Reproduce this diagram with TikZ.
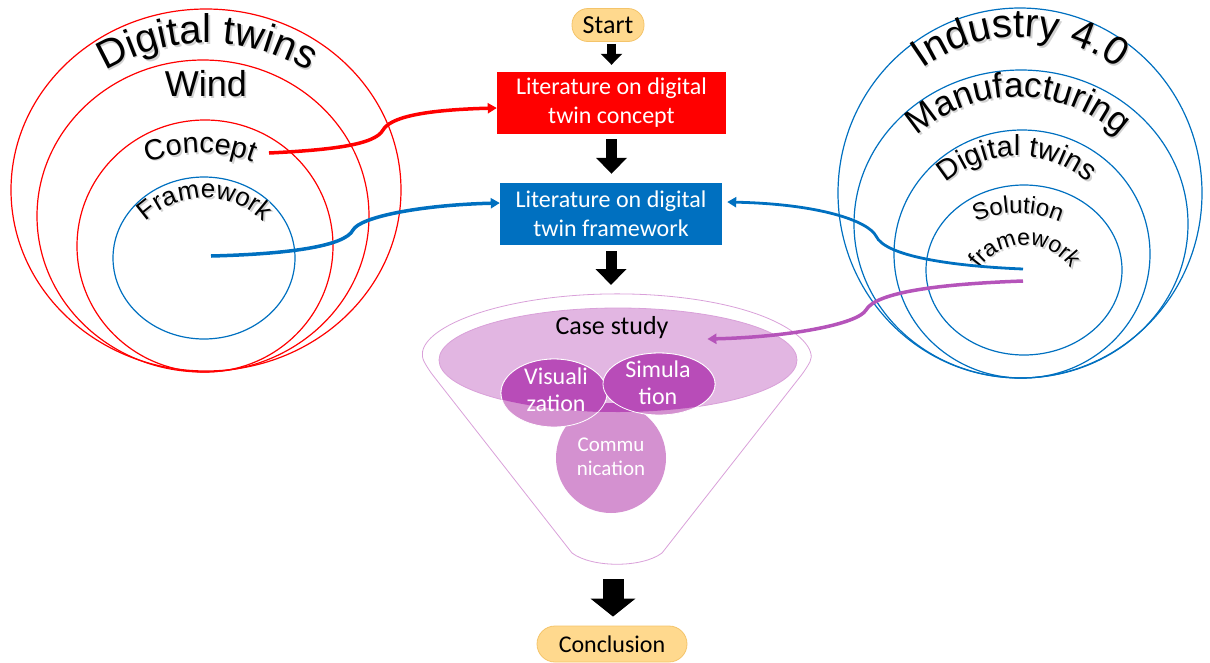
\documentclass[tikz,border=0pt]{standalone}
\usepackage{fontspec}
\setmainfont{Liberation Sans}
\newfontfamily\calfont{Carlito}
\usetikzlibrary{arrows.meta,decorations.text,shapes.geometric}

\definecolor{dtred}{HTML}{FF0000}
\definecolor{dtblue}{HTML}{0070C0}
\definecolor{lav}{HTML}{E2B6E2}
\definecolor{lavline}{HTML}{D9A0D9}
\definecolor{vdark}{HTML}{B84CB8}
\definecolor{vlight}{HTML}{D491D0}
\definecolor{purp}{HTML}{B554BA}
\definecolor{pillfill}{HTML}{FFD98E}
\definecolor{pillline}{HTML}{F4C46A}

\newcommand\arctxt[6]{%
\path[decorate,decoration={text along path,text={|\fontsize{#1}{#1}\selectfont\color{black!18}|#2},text align=center}] (#3) ++(1.6pt,-1.6pt) ++(#5:#4pt) arc[start angle=#5,end angle=#6,radius=#4pt];
\path[decorate,decoration={text along path,text={|\fontsize{#1}{#1}\selectfont|#2},text align=center}] (#3) ++(#5:#4pt) arc[start angle=#5,end angle=#6,radius=#4pt];}

\tikzset{
  ring/.style={ellipse, draw=#1, line width=1.2pt, inner sep=0pt},
  pill/.style={draw=pillline, fill=pillfill, line width=0.8pt, inner sep=0pt, font=\calfont\fontsize{24}{28}\selectfont},
  flowbox/.style={text=white, align=center, inner sep=0pt, font=\calfont\fontsize{24}{29}\selectfont},
  conn/.style={draw=#1, line width=3.5pt, -{Triangle[length=9pt,width=10pt]}},
  barrowS/.style={line width=9pt, -{Triangle[length=11pt,width=21pt]}},
  barrowM/.style={line width=11pt, -{Triangle[length=16pt,width=30pt]}},
  barrowL/.style={line width=21pt, -{Triangle[length=18pt,width=44pt]}},
  venntxt/.style={text=white, align=center, inner sep=0pt}
}

\begin{document}
\begin{tikzpicture}[x=1pt,y=1pt]
\useasboundingbox (0,0) rectangle (1210,-662);

% ---------- left rings ----------
\node[ring=dtred, minimum width=390pt, minimum height=362pt] (l1) at (206,-190) {};
\node[ring=dtred, minimum width=332pt, minimum height=312pt] (l2) at (203,-216) {};
\node[ring=dtred, minimum width=256pt, minimum height=252pt] (l3) at (205,-246) {};
\node[ring=dtblue, minimum width=182pt, minimum height=162pt] (l4) at (204,-258) {};

% ---------- right rings ----------
\node[ring=dtblue, minimum width=364pt, minimum height=370pt] (r1) at (1020,-193) {};
\node[ring=dtblue, minimum width=334pt, minimum height=308pt] (r2) at (1021,-224) {};
\node[ring=dtblue, minimum width=256pt, minimum height=248pt] (r3) at (1022,-254) {};
\node[ring=dtblue, minimum width=196pt, minimum height=170pt] (r4) at (1024,-270) {};

% ---------- curved labels ----------
\arctxt{40}{Digital twins}{207,-238}{195}{150}{30}
\arctxt{29}{Concept}{200,-303}{150}{140}{40}
\arctxt{26}{Framework}{205,-283}{85}{170}{10}
\arctxt{40}{Industry 4.0}{1020,-203}{166}{150}{30}
\arctxt{35}{Manufacturing}{1018,-247}{150}{160}{20}
\arctxt{29}{Digital twins}{1017,-263}{107}{170}{10}
\arctxt{24}{Solution}{1018,-319}{106}{150}{30}
\arctxt{23}{framework}{1025,-301}{56}{178}{2}
\node[font=\fontsize{36}{36}\selectfont, text=black!18] (windsh) at (207.6,-85.6) {Wind};
\node[font=\fontsize{36}{36}\selectfont] (wind) at (206,-84) {Wind};

% ---------- flow ----------
\node[pill, rounded corners=16pt, minimum width=72pt, minimum height=33pt, font=\calfont\fontsize{26}{30}\selectfont] (start) at (608,-25) {Start};
\node[flowbox, fill=dtred, minimum width=229pt, minimum height=62pt] (red) at (611.5,-103) {Literature on digital\\twin concept};
\node[flowbox, fill=dtblue, minimum width=222pt, minimum height=62pt] (blue) at (611,-214) {Literature on digital\\twin framework};
\node[pill, rounded corners=18pt, minimum width=150pt, minimum height=36pt] (concl) at (612,-644) {Conclusion};

% ---------- funnel ----------
\coordinate (ftop) at (612,-294);
\coordinate (fbot) at (613,-565);
\draw[lavline, line width=0.8pt, rounded corners=8pt] (572,-553) -- (428,-369)
  arc[start angle=190, end angle=-10, x radius=192pt, y radius=64pt] -- (662,-553);
\draw[lavline, line width=0.8pt] (662,-553) .. controls (642,-568) and (592,-568) .. (572,-553);

\node[ellipse, fill=lav, draw=lavline, line width=0.8pt, minimum width=358pt, minimum height=104pt] (case) at (618,-360) {};
\node[circle, fill=vlight, minimum size=110pt, inner sep=0pt] (comm) at (611,-458) {};
\node[ellipse, fill=vlight, draw=white, line width=0.8pt, minimum width=106pt, minimum height=68pt, inner sep=0pt] (vis) at (554,-393) {};
\node[ellipse, fill=vlight, draw=white, line width=0.8pt, minimum width=112pt, minimum height=62pt, inner sep=0pt] (sim) at (659,-384) {};
\begin{scope}
  \clip (618,-360) ellipse[x radius=179pt, y radius=52pt];
  \fill[vdark] (611,-458) circle[radius=55pt];
  \filldraw[fill=vdark, draw=white, line width=0.8pt] (554,-393) ellipse[x radius=53pt, y radius=34pt];
  \filldraw[fill=vdark, draw=white, line width=0.8pt] (659,-384) ellipse[x radius=56pt, y radius=31pt];
\end{scope}
\node[font=\calfont\fontsize{26}{30}\selectfont] (casetxt) at (612,-328) {Case study};
\node[venntxt, font=\calfont\fontsize{24}{27}\selectfont] (vist) at (556,-390) {Visuali\\zation};
\node[venntxt, font=\calfont\fontsize{24}{27}\selectfont] (simt) at (658,-383) {Simula\\tion};
\node[venntxt, font=\calfont\fontsize{21}{24}\selectfont] (commt) at (611,-457) {Commu\\nication};

% ---------- block arrows ----------
\draw[barrowS, shorten <=2pt] (start.south -| red.north) -- ([yshift=7pt]red.north);
\draw[barrowM, shorten <=5pt, shorten >=9pt] (red.south) -- (red.south |- blue.north);
\draw[barrowM, shorten <=6pt, shorten >=9pt] (blue.south) -- (blue.south |- ftop);
\draw[barrowL, shorten <=14pt, shorten >=9pt] (fbot) -- (fbot |- concl.north);

% ---------- connectors ----------
\coordinate (cR) at (269,-153);
\coordinate (cB) at (211,-256);
\coordinate (cS) at (1023,-269);
\coordinate (cP) at (1023,-281);
\draw[conn=dtred] (cR) .. controls (330,-150) and (375,-145) .. (383,-130)
  .. controls (390,-118) and (420,-110) .. ([yshift=-5pt]red.west);
\draw[conn=dtblue] (cB) .. controls (290,-254) and (345,-246) .. (353,-230)
  .. controls (360,-217) and (420,-205) .. ([yshift=11pt]blue.west);
\draw[conn=dtblue, line width=2.8pt] (cS) .. controls (950,-266) and (885,-256) .. (876,-236)
  .. controls (868,-221) and (820,-204) .. ([xshift=5pt,yshift=12pt]blue.east);
\draw[conn=purp] (cP) .. controls (940,-284) and (876,-292) .. (866,-310)
  .. controls (858,-324) and (790,-337) .. ([shift={(-90pt,21pt)}]case.east);
\end{tikzpicture}
\end{document}
